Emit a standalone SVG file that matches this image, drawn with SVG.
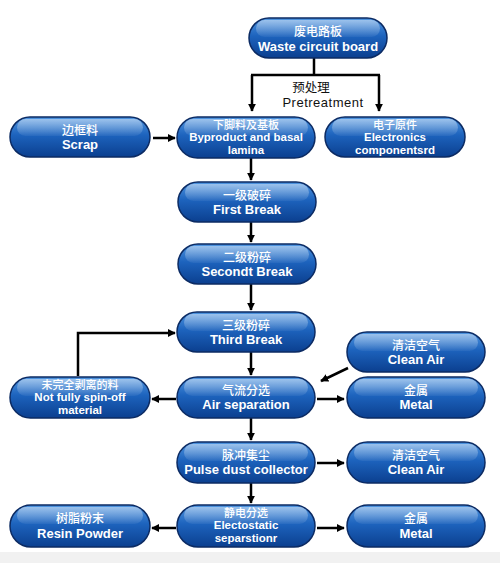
<svg xmlns="http://www.w3.org/2000/svg" width="500" height="563" viewBox="0 0 500 563">
<defs>
<linearGradient id="pillFill" x1="0" y1="0" x2="0" y2="1">
<stop offset="0" stop-color="#4f95e0"/>
<stop offset="0.45" stop-color="#1d63bd"/>
<stop offset="1" stop-color="#0b3f8f"/>
</linearGradient>
<linearGradient id="gloss" x1="0" y1="0" x2="0" y2="1">
<stop offset="0" stop-color="#ffffff" stop-opacity="0.45"/>
<stop offset="1" stop-color="#ffffff" stop-opacity="0.05"/>
</linearGradient>
<marker id="arr" viewBox="0 0 10 10" refX="9" refY="5" markerWidth="8" markerHeight="8" markerUnits="userSpaceOnUse" orient="auto">
<path d="M0,0 L10,5 L0,10 Z" fill="#000"/>
</marker>
<style>
.pill{fill:url(#pillFill);stroke:#0c2b63;stroke-width:1.5}
.gl{fill:url(#gloss)}
.cn{font-family:"Noto Sans CJK SC",sans-serif;font-size:12px;fill:#fff;text-anchor:middle;font-weight:500}
.cn3{font-family:"Noto Sans CJK SC",sans-serif;font-size:11px;fill:#fff;text-anchor:middle;font-weight:500}
.en{font-family:"Liberation Sans",Arial,sans-serif;font-size:13px;fill:#fff;text-anchor:middle;font-weight:bold}
.en3{font-family:"Liberation Sans",Arial,sans-serif;font-size:11.5px;fill:#fff;text-anchor:middle;font-weight:bold}
.lbl{font-family:"Noto Sans CJK SC",sans-serif;font-size:12.5px;fill:#111;text-anchor:middle}
.lble{font-family:"Liberation Sans",Arial,sans-serif;font-size:13px;fill:#111;text-anchor:middle;letter-spacing:0.5px}
.c{stroke:#000;stroke-width:2.5;fill:none}
.ca{stroke:#000;stroke-width:2.5;fill:none;marker-end:url(#arr)}
</style>
</defs>
<rect x="0" y="0" width="500" height="563" fill="#fff"/>
<rect x="0" y="552" width="500" height="11" fill="#f1f1f1"/>

<g id="connectors">
<line class="c" x1="314" y1="58" x2="314" y2="75"/>
<line class="c" x1="251" y1="75" x2="380" y2="75"/>
<line class="ca" x1="252" y1="75" x2="252" y2="111"/>
<line class="ca" x1="379" y1="75" x2="379" y2="111"/>
<line class="ca" x1="153" y1="138" x2="175" y2="138"/>
<line class="ca" x1="251" y1="158" x2="251" y2="180"/>
<line class="ca" x1="251" y1="222" x2="251" y2="242"/>
<line class="ca" x1="251" y1="284" x2="251" y2="310"/>
<line class="ca" x1="251" y1="352" x2="251" y2="375"/>
<line class="ca" x1="348" y1="368" x2="321" y2="381"/>
<line class="ca" x1="176" y1="399" x2="152" y2="399"/>
<line class="ca" x1="317" y1="399" x2="344" y2="399"/>
<polyline class="ca" points="78,376 78,333 175,333"/>
<line class="ca" x1="251" y1="418" x2="251" y2="440"/>
<line class="ca" x1="317" y1="463" x2="344" y2="463"/>
<line class="ca" x1="251" y1="483" x2="251" y2="503"/>
<line class="ca" x1="176" y1="528" x2="152" y2="528"/>
<line class="ca" x1="317" y1="528" x2="344" y2="528"/>
<text class="lbl" x="311" y="92">预处理</text>
<text class="lble" x="323" y="107">Pretreatment</text>
</g>

<g id="waste">
<rect class="pill" x="249" y="18" width="138" height="40" rx="20"/>
<rect class="gl" x="256" y="20" width="124" height="17" rx="8.5"/>
<text class="cn" x="318" y="36">废电路板</text>
<text class="en" x="318" y="51">Waste circuit board</text>
</g>

<g id="scrap">
<rect class="pill" x="10" y="117" width="140" height="40" rx="20"/>
<rect class="gl" x="17" y="119" width="126" height="17" rx="8.5"/>
<text class="cn" x="80" y="135">边框料</text>
<text class="en" x="80" y="149">Scrap</text>
</g>

<g id="byproduct">
<rect class="pill" x="177" y="117" width="138" height="41" rx="20.5"/>
<rect class="gl" x="184" y="119" width="124" height="17" rx="8.5"/>
<text class="cn3" x="246" y="128.5">下脚料及基板</text>
<text class="en3" x="246" y="141">Byproduct and basal</text>
<text class="en3" x="246" y="154">lamina</text>
</g>

<g id="electronics">
<rect class="pill" x="325" y="117" width="140" height="40" rx="20"/>
<rect class="gl" x="332" y="119" width="126" height="17" rx="8.5"/>
<text class="cn3" x="395" y="128.5">电子原件</text>
<text class="en3" x="395" y="141">Electronics</text>
<text class="en3" x="395" y="154">componentsrd</text>
</g>

<g id="first">
<rect class="pill" x="178" y="182" width="138" height="40" rx="20"/>
<rect class="gl" x="185" y="184" width="124" height="17" rx="8.5"/>
<text class="cn" x="247" y="200">一级破碎</text>
<text class="en" x="247" y="214">First Break</text>
</g>

<g id="second">
<rect class="pill" x="178" y="244" width="138" height="40" rx="20"/>
<rect class="gl" x="185" y="246" width="124" height="17" rx="8.5"/>
<text class="cn" x="247" y="262">二级粉碎</text>
<text class="en" x="247" y="276">Secondt Break</text>
</g>

<g id="third">
<rect class="pill" x="177" y="312" width="138" height="40" rx="20"/>
<rect class="gl" x="184" y="314" width="124" height="17" rx="8.5"/>
<text class="cn" x="246" y="330">三级粉碎</text>
<text class="en" x="246" y="344">Third Break</text>
</g>

<g id="cleanair1">
<rect class="pill" x="347" y="332" width="138" height="40" rx="20"/>
<rect class="gl" x="354" y="334" width="124" height="17" rx="8.5"/>
<text class="cn" x="416" y="350">清洁空气</text>
<text class="en" x="416" y="364">Clean Air</text>
</g>

<g id="notfully">
<rect class="pill" x="10" y="377" width="140" height="41" rx="20.5"/>
<rect class="gl" x="17" y="379" width="126" height="17" rx="8.5"/>
<text class="cn3" x="80" y="388.5">未完全剥离的料</text>
<text class="en3" x="80" y="401">Not fully spin-off</text>
<text class="en3" x="80" y="414">material</text>
</g>

<g id="airsep">
<rect class="pill" x="177" y="377" width="138" height="41" rx="20.5"/>
<rect class="gl" x="184" y="379" width="124" height="17" rx="8.5"/>
<text class="cn" x="246" y="395">气流分选</text>
<text class="en" x="246" y="409">Air separation</text>
</g>

<g id="metal1">
<rect class="pill" x="347" y="377" width="138" height="41" rx="20.5"/>
<rect class="gl" x="354" y="379" width="124" height="17" rx="8.5"/>
<text class="cn" x="416" y="395">金属</text>
<text class="en" x="416" y="409">Metal</text>
</g>

<g id="pulse">
<rect class="pill" x="177" y="442" width="138" height="41" rx="20.5"/>
<rect class="gl" x="184" y="444" width="124" height="17" rx="8.5"/>
<text class="cn" x="246" y="460">脉冲集尘</text>
<text class="en" x="246" y="474">Pulse dust collector</text>
</g>

<g id="cleanair2">
<rect class="pill" x="347" y="442" width="138" height="41" rx="20.5"/>
<rect class="gl" x="354" y="444" width="124" height="17" rx="8.5"/>
<text class="cn" x="416" y="460">清洁空气</text>
<text class="en" x="416" y="474">Clean Air</text>
</g>

<g id="resin">
<rect class="pill" x="10" y="505" width="140" height="42" rx="21"/>
<rect class="gl" x="17" y="507" width="126" height="17" rx="8.5"/>
<text class="cn" x="80" y="523">树脂粉末</text>
<text class="en" x="80" y="538">Resin Powder</text>
</g>

<g id="electostatic">
<rect class="pill" x="177" y="505" width="138" height="42" rx="21"/>
<rect class="gl" x="184" y="507" width="124" height="17" rx="8.5"/>
<text class="cn3" x="246" y="516.5">静电分选</text>
<text class="en3" x="246" y="529">Electostatic</text>
<text class="en3" x="246" y="542">separstionr</text>
</g>

<g id="metal2">
<rect class="pill" x="347" y="505" width="138" height="42" rx="21"/>
<rect class="gl" x="354" y="507" width="124" height="17" rx="8.5"/>
<text class="cn" x="416" y="523">金属</text>
<text class="en" x="416" y="538">Metal</text>
</g>
</svg>
